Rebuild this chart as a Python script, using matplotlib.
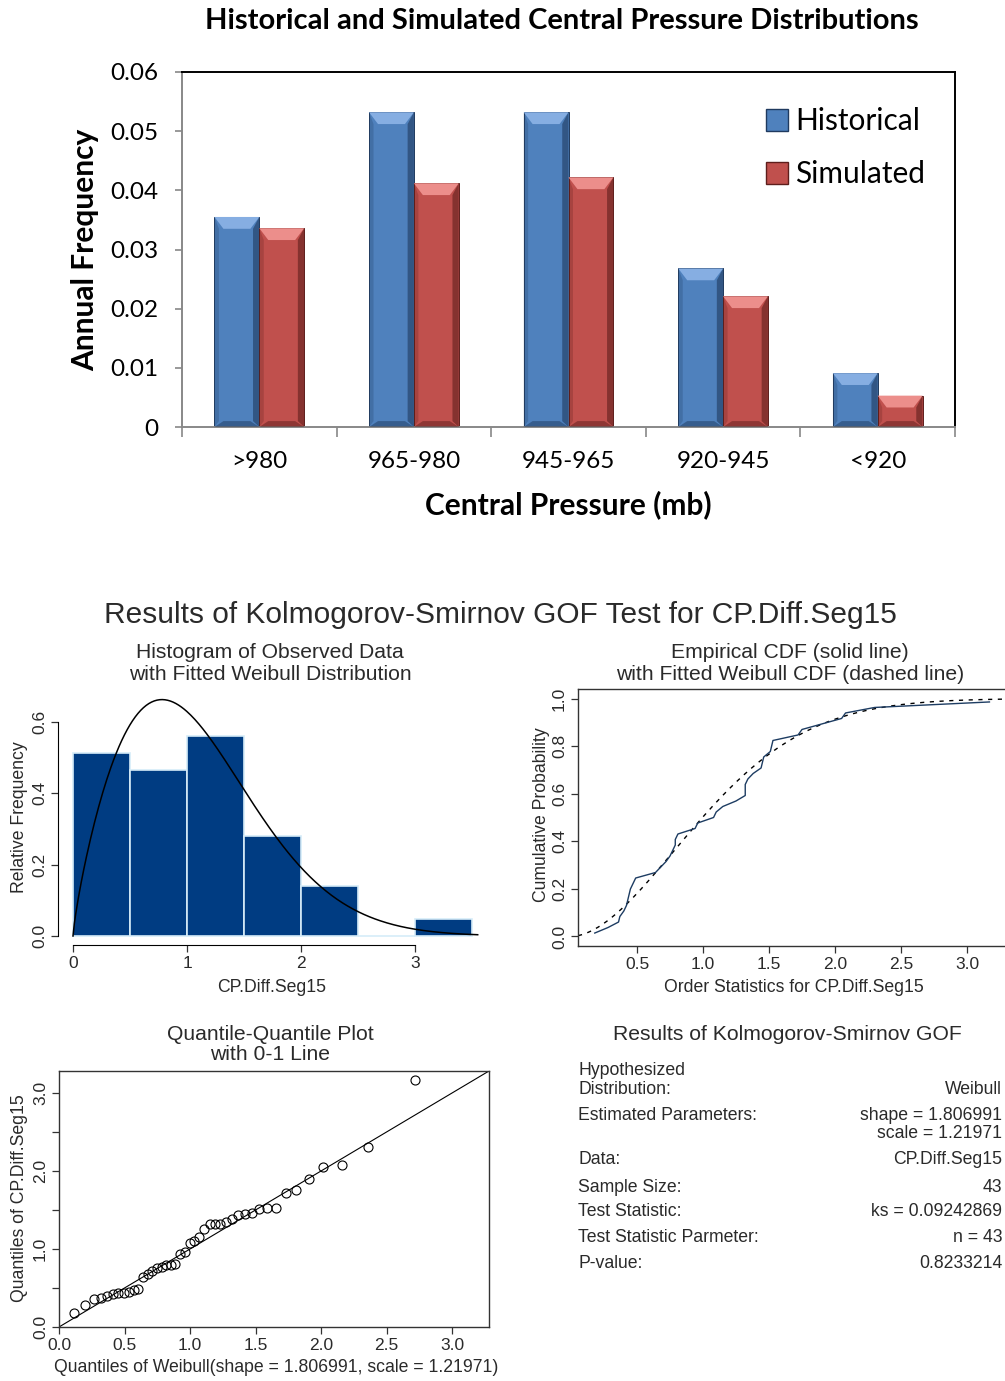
import numpy as np
import matplotlib
matplotlib.use('Agg')
import matplotlib.pyplot as plt
from matplotlib.patches import Polygon, Patch

# ---------------------------------------------------------------------------
# Data
# ---------------------------------------------------------------------------
categories = ['>980', '965-980', '945-965', '920-945', '<920']
historical = [0.0355, 0.0532, 0.0532, 0.0268, 0.0091]
simulated = [0.0336, 0.0412, 0.0422, 0.0221, 0.0053]

# observed CP.Diff.Seg15 values (sorted)
cp_diff = [0.18, 0.28, 0.36, 0.37, 0.40, 0.42, 0.43, 0.44, 0.45, 0.47, 0.49,
           0.64, 0.68, 0.72, 0.75, 0.77, 0.79, 0.79, 0.81, 0.94, 0.96,
           1.08, 1.10, 1.15, 1.25, 1.32, 1.32, 1.32, 1.34, 1.38, 1.44, 1.45, 1.46,
           1.51, 1.52, 1.53, 1.72, 1.75, 1.90,
           2.05, 2.08, 2.30,
           3.17]
hist_bins = [0, 0.5, 1.0, 1.5, 2.0, 2.5, 3.0, 3.5]
weibull_shape = 1.806991
weibull_scale = 1.21971

ks_labels = ['Hypothesized\nDistribution:', 'Estimated Parameters:', 'Data:',
             'Sample Size:', 'Test Statistic:', 'Test Statistic Parmeter:', 'P-value:']
ks_values = ['Weibull', 'shape = 1.806991\nscale = 1.21971', 'CP.Diff.Seg15',
             '43', 'ks = 0.09242869', 'n = 43', '0.8233214']

# ---------------------------------------------------------------------------
# Helpers
# ---------------------------------------------------------------------------
W, H = 1005, 1381
fig = plt.figure(figsize=(W / 100, H / 100), dpi=100)
fig.patch.set_facecolor('white')


def px_axes(left, top, right, bottom):
    return fig.add_axes([left / W, 1 - bottom / H, (right - left) / W, (bottom - top) / H])


def ftext(x, y, s, **kw):
    kw.setdefault('ha', 'center')
    kw.setdefault('va', 'center')
    return fig.text(x / W, 1 - y / H, s, **kw)


def weibull_pdf(x):
    z = np.asarray(x) / weibull_scale
    return weibull_shape / weibull_scale * z ** (weibull_shape - 1) * np.exp(-z ** weibull_shape)


def weibull_cdf(x):
    return 1 - np.exp(-(np.asarray(x) / weibull_scale) ** weibull_shape)


def weibull_ppf(p):
    return weibull_scale * (-np.log(1 - np.asarray(p))) ** (1 / weibull_shape)


def bevel_bar(ax, x, h, w, face, light, dark):
    ax.bar(x, h, w, color=face, edgecolor=dark, linewidth=0.7, zorder=2)
    dx = 0.2 * w
    dy = 0.002
    x0, x1 = x - w / 2, x + w / 2
    # left and right shading, bottom and top caps
    ax.add_patch(Polygon([(x0, h), (x0, 0), (x0 + dx * 0.5, dy * 0.5), (x0 + dx * 0.5, h - dy)],
                         closed=True, fc=dark, alpha=0.25, lw=0, zorder=3))
    ax.add_patch(Polygon([(x1, h), (x1, 0), (x1 - dx * 0.7, dy * 0.5), (x1 - dx * 0.7, h - dy)],
                         closed=True, fc=dark, alpha=0.6, lw=0, zorder=3))
    ax.add_patch(Polygon([(x0, 0), (x1, 0), (x1 - dx, dy * 0.5), (x0 + dx, dy * 0.5)],
                         closed=True, fc=dark, alpha=0.5, lw=0, zorder=3))
    ax.add_patch(Polygon([(x0, h), (x1, h), (x1 - dx, h - dy), (x0 + dx, h - dy)],
                         closed=True, fc=light, lw=0, zorder=4))


# ---------------------------------------------------------------------------
# Top: Excel style bar chart
# ---------------------------------------------------------------------------
top_font = 'Lato'
blue = ('#4F81BD', '#86AEE2', '#1F3A5F')
red = ('#C0504D', '#EC8E8B', '#5E1E1C')

ax = px_axes(182, 72, 955, 427)
xc = np.arange(len(categories))
bw = 0.29
for i in xc:
    bevel_bar(ax, i - bw / 2, historical[i], bw, *blue)
    bevel_bar(ax, i + bw / 2, simulated[i], bw, *red)

ax.set_xlim(-0.5, len(categories) - 0.5)
ax.set_ylim(0, 0.06)
ax.set_yticks(np.arange(0, 0.0601, 0.01))
ax.set_yticklabels(['0'] + ['%.2f' % v for v in np.arange(0.01, 0.0601, 0.01)],
                   family=top_font, fontsize=17.5)
ax.set_xticks(xc)
ax.set_xticklabels(categories, family=top_font, fontsize=17.5)
ax.set_xticks(np.arange(-0.5, len(categories), 1), minor=True)
ax.tick_params(axis='x', which='major', length=0, pad=17)
ax.tick_params(axis='x', which='minor', length=7, color='#888888', width=1.2)
ax.tick_params(axis='y', length=5, color='#888888', width=1.2, pad=12)
for side in ('top', 'right'):
    ax.spines[side].set_color('black')
    ax.spines[side].set_linewidth(1.4)
for side in ('left', 'bottom'):
    ax.spines[side].set_color('#888888')
    ax.spines[side].set_linewidth(1.4)

handles = [Patch(facecolor=blue[0], edgecolor=blue[2], label='Historical'),
           Patch(facecolor=red[0], edgecolor=red[2], label='Simulated')]
ax.legend(handles=handles, loc='upper left', bbox_to_anchor=(0.755, 0.90),
          frameon=False, prop={'family': top_font, 'size': 21.5},
          handlelength=0.75, handleheight=0.75, handletextpad=0.25,
          labelspacing=0.82, borderaxespad=0, borderpad=0)

ftext(562, 21, 'Historical and Simulated Central Pressure Distributions',
      family=top_font, fontsize=21, fontweight='bold')
ftext(85, 250, 'Annual Frequency', rotation=90,
      family=top_font, fontsize=21.5, fontweight='bold')
ftext(568, 505, 'Central Pressure (mb)', family=top_font, fontsize=21.5, fontweight='bold')

# ---------------------------------------------------------------------------
# Bottom: R style KS goodness-of-fit panels
# ---------------------------------------------------------------------------
r_font = 'Liberation Sans'
tc = '#2a2a2a'
plt.rcParams['font.family'] = r_font

ftext(500, 615, 'Results of Kolmogorov-Smirnov GOF Test for CP.Diff.Seg15',
      fontsize=21.5, color=tc)


def r_ticks(a, labelsize=12.5):
    a.tick_params(direction='out', length=5, width=0.9, colors='#333333',
                  labelcolor=tc, labelsize=labelsize, pad=3)
    for lab in a.get_yticklabels():
        lab.set_rotation(90)
        lab.set_va('center')


data = np.array(cp_diff)
n = len(data)

# histogram with fitted density
ftext(270, 652, 'Histogram of Observed Data', fontsize=15.2, color=tc)
ftext(270, 674, 'with Fitted Weibull Distribution', fontsize=15.2, color=tc)
ah = px_axes(58, 690, 480, 945)
ah.hist(data, bins=hist_bins, density=True, color='#003c82',
        edgecolor='#d6ecf8', linewidth=1.2, zorder=2)
xs = np.linspace(0, 3.55, 300)
ah.plot(xs, weibull_pdf(xs), color='black', lw=1.1, zorder=3)
ah.set_xlim((58 - 73) / 114, (480 - 73) / 114)
ah.set_ylim((936 - 945) / 357.5, (936 - 690) / 357.5)
ah.set_xticks([0, 1, 2, 3])
ah.set_yticks([0, 0.2, 0.4, 0.6])
ah.set_yticklabels(['0.0', '0.2', '0.4', '0.6'])
for side in ('top', 'right'):
    ah.spines[side].set_visible(False)
ah.spines['left'].set_bounds(0, 0.6)
ah.spines['bottom'].set_bounds(0, 3)
r_ticks(ah)
ftext(20, 817, 'Relative Frequency', rotation=90, fontsize=12.7, color=tc)
ftext(272, 987, 'CP.Diff.Seg15', fontsize=12.7, color=tc)

# empirical vs fitted CDF
ftext(790, 652, 'Empirical CDF (solid line)', fontsize=15.2, color=tc)
ftext(790, 674, 'with Fitted Weibull CDF (dashed line)', fontsize=15.2, color=tc)
ac = px_axes(578, 689, 1009, 946)
pp = (np.arange(1, n + 1) - 0.375) / (n + 0.25)
x0c, x1c = 0.5 - (637 - 578) / 132, 0.5 + (1009 - 637) / 132
xs = np.linspace(x0c, x1c, 300)
ac.plot(xs, weibull_cdf(xs), color='black', lw=1.0, ls=(0, (3, 4)), zorder=2)
ac.plot(data, pp, color='#1d3c62', lw=1.0, zorder=3)
ac.set_xlim(x0c, x1c)
ac.set_ylim(-0.04, 1.04)
ac.set_xticks([0.5, 1.0, 1.5, 2.0, 2.5, 3.0])
ac.set_yticks([0, 0.2, 0.4, 0.6, 0.8, 1.0])
ac.set_yticklabels(['0.0', '0.2', '0.4', '0.6', '0.8', '1.0'])
for sp in ac.spines.values():
    sp.set_color('#333333')
    sp.set_linewidth(1.0)
r_ticks(ac)
ftext(541, 815, 'Cumulative Probability', rotation=90, fontsize=12.7, color=tc)
ftext(794, 987, 'Order Statistics for CP.Diff.Seg15', fontsize=12.7, color=tc)

# Q-Q plot
ftext(270, 1034, 'Quantile-Quantile Plot', fontsize=15.2, color=tc)
ftext(270, 1055, 'with 0-1 Line', fontsize=15.2, color=tc)
aq = px_axes(59, 1071, 489, 1327)
theo = weibull_ppf(pp)
aq.axline((0, 0), slope=1, color='black', lw=0.8, zorder=2)
aq.plot(theo, data, 'o', mfc='none', mec='black', ms=6.5, mew=0.8, zorder=3)
aq.set_xlim(0, 3.28)
aq.set_ylim(0, 3.28)
aq.set_xticks(np.arange(0, 3.01, 0.5))
aq.set_xticklabels(['%.1f' % v for v in np.arange(0, 3.01, 0.5)])
aq.set_yticks(np.arange(0, 3.01, 0.5))
aq.set_yticklabels(['0.0', '', '1.0', '', '2.0', '', '3.0'])
for sp in aq.spines.values():
    sp.set_color('#333333')
    sp.set_linewidth(1.0)
r_ticks(aq)
ftext(20, 1198, 'Quantiles of CP.Diff.Seg15', rotation=90, fontsize=12.7, color=tc)
ftext(276, 1368, 'Quantiles of Weibull(shape = %s, scale = %s)' % (weibull_shape, weibull_scale),
      fontsize=12.7, color=tc)

# results table
ftext(787, 1034, 'Results of Kolmogorov-Smirnov GOF', fontsize=15.2, color=tc)
label_y = [1080, 1116, 1160, 1187, 1212, 1238, 1264]
value_y = [1090, 1124.5, 1160, 1187, 1212, 1238, 1264]
for lab, val, ly, vy in zip(ks_labels, ks_values, label_y, value_y):
    ftext(578, ly, lab, ha='left', fontsize=12.7, color=tc, linespacing=1.1)
    ftext(1002, vy, val, ha='right', fontsize=12.7, color=tc, linespacing=1.0,
          multialignment='right')

fig.savefig('out.png', dpi=100, facecolor='white')
